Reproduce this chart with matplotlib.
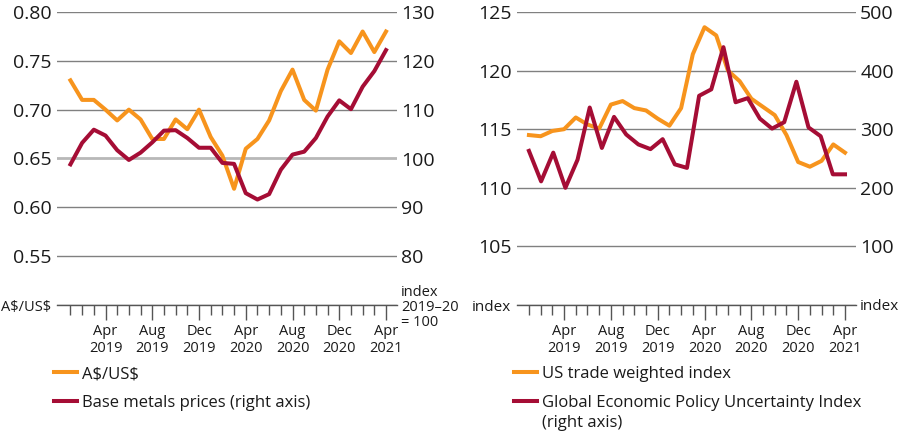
import matplotlib.pyplot as plt
import numpy as np

plt.rcParams['font.family'] = ['Open Sans', 'DejaVu Sans']

# data (monthly, Jan 2019 .. Apr 2021)
aud_usd = [0.730, 0.710, 0.710, 0.700, 0.689, 0.700, 0.690, 0.670, 0.670, 0.690,
           0.680, 0.700, 0.672, 0.653, 0.619, 0.660, 0.670, 0.689, 0.719, 0.741,
           0.710, 0.699, 0.741, 0.770, 0.758, 0.780, 0.759, 0.780]
base_metals = [98.8, 103.2, 105.9, 104.7, 101.7, 99.7, 101.2, 103.3, 105.7, 105.8,
               104.2, 102.2, 102.2, 99.1, 98.9, 92.9, 91.6, 92.7, 97.7, 100.8,
               101.4, 104.2, 108.6, 111.9, 110.1, 114.7, 117.9, 122.2]
us_twi = [114.5, 114.4, 114.85, 115.0, 116.0, 115.4, 115.05, 117.1, 117.4, 116.8,
          116.6, 115.9, 115.3, 116.8, 121.4, 123.7, 123.0, 120.0, 119.1, 117.6,
          116.9, 116.2, 114.5, 112.2, 111.8, 112.3, 113.7, 113.0]
epu = [263, 211, 260, 200, 248, 337, 268, 321, 291, 274, 266, 283, 240, 234,
       357, 368, 440, 346, 353, 318, 301, 312, 381, 303, 288, 223, 223]

month_labels = ['Apr\n2019', 'Aug\n2019', 'Dec\n2019', 'Apr\n2020',
                'Aug\n2020', 'Dec\n2020', 'Apr\n2021']

ORANGE = '#F7941D'
RED = '#A50D35'
GRID = '#808080'
TXT = '#1a1a1a'

months = np.arange(len(aud_usd))
major = np.arange(3, 28, 4)

fig = plt.figure(figsize=(8.99, 4.48), dpi=100)
ax1 = fig.add_axes([57 / 899, 1 - 305 / 448, 340 / 899, 293 / 448])
ax3 = fig.add_axes([517 / 899, 1 - 305 / 448, 339 / 899, 293 / 448])


def style(ax, xmin):
    ax.set_xlim(xmin, 27.94)
    for s in ['top', 'left', 'right']:
        ax.spines[s].set_visible(False)
    ax.spines['bottom'].set_color('#555555')
    ax.spines['bottom'].set_linewidth(1.0)
    ax.set_xticks(major)
    ax.set_xticklabels(month_labels, fontsize=10.5, color=TXT, linespacing=1.15)
    ax.set_xticks(months, minor=True)
    ax.tick_params(axis='x', which='major', length=11, width=1, color='#555555', pad=3)
    ax.tick_params(axis='x', which='minor', length=7, width=1, color='#555555')
    ax.tick_params(axis='y', length=0, pad=4, labelsize=14, labelcolor=TXT)
    ax.grid(axis='y', color=GRID, lw=1.0)
    ax.set_axisbelow(True)


def twin_style(ax):
    ax.tick_params(axis='y', length=0, pad=3, labelsize=14, labelcolor=TXT)
    for s in ['top', 'left', 'right', 'bottom']:
        ax.spines[s].set_visible(False)


leg_kw = dict(loc='upper left', frameon=False, fontsize=12, handlelength=1.4,
              handletextpad=0.3, labelspacing=0.75, borderpad=0,
              borderaxespad=0, labelcolor=TXT)

# left panel
style(ax1, -1.15)
ax1.set_ylim(0.50, 0.80)
ax1.set_yticks([0.50, 0.55, 0.60, 0.65, 0.70, 0.75, 0.80])
ax1.set_yticklabels(['A\\$/US\\$', '0.55', '0.60', '0.65', '0.70', '0.75', '0.80'])
ax1.get_yticklabels()[0].set_fontsize(10.5)
for gl, v in zip(ax1.get_ygridlines(), ax1.get_yticks()):
    if abs(v - 0.65) < 1e-6:
        gl.set_color('#b8b8b8')
        gl.set_linewidth(2)
l1, = ax1.plot(months, aud_usd, color=ORANGE, lw=2.9, zorder=3)

ax2 = ax1.twinx()
twin_style(ax2)
ax2.set_ylim(70, 130)
ax2.set_yticks([70, 80, 90, 100, 110, 120, 130])
ax2.set_yticklabels(['index\n2019–20\n= 100', '80', '90', '100', '110', '120', '130'])
ax2.get_yticklabels()[0].set_fontsize(10.5)
ax2.get_yticklabels()[0].set_linespacing(1.0)
l2, = ax2.plot(months, base_metals, color=RED, lw=2.9, zorder=3)

fig.legend([l1, l2], ['A\\$/US\\$', 'Base metals prices (right axis)'],
           bbox_to_anchor=(54 / 899, 1 - 366 / 448), **leg_kw)

# right panel
style(ax3, -1.02)
ax3.set_ylim(100, 125)
ax3.set_yticks([100, 105, 110, 115, 120, 125])
ax3.set_yticklabels(['index', '105', '110', '115', '120', '125'])
ax3.get_yticklabels()[0].set_fontsize(11)
l3, = ax3.plot(months, us_twi, color=ORANGE, lw=2.9, zorder=3)

ax4 = ax3.twinx()
twin_style(ax4)
ax4.set_ylim(0, 500)
ax4.set_yticks([0, 100, 200, 300, 400, 500])
ax4.set_yticklabels(['index', '100', '200', '300', '400', '500'])
ax4.get_yticklabels()[0].set_fontsize(11)
# the uncertainty series is plotted with its own spacing across the same span
epu_x = np.linspace(0, 27, len(epu))
l4, = ax4.plot(epu_x, epu, color=RED, lw=2.9, zorder=3)

leg = fig.legend([l3, l4], ['US trade weighted index',
                            'Global Economic Policy Uncertainty Index'],
                 bbox_to_anchor=(514 / 899, 1 - 366 / 448), **leg_kw)

# continuation line of the second label, under its first line
fig.canvas.draw()
bb = leg.get_texts()[1].get_window_extent()
fig.text(bb.x0 / 899, (bb.y0 - 20) / 448, '(right axis)', fontsize=12,
         color=TXT, va='bottom', ha='left')

fig.savefig('out.png', dpi=100)
